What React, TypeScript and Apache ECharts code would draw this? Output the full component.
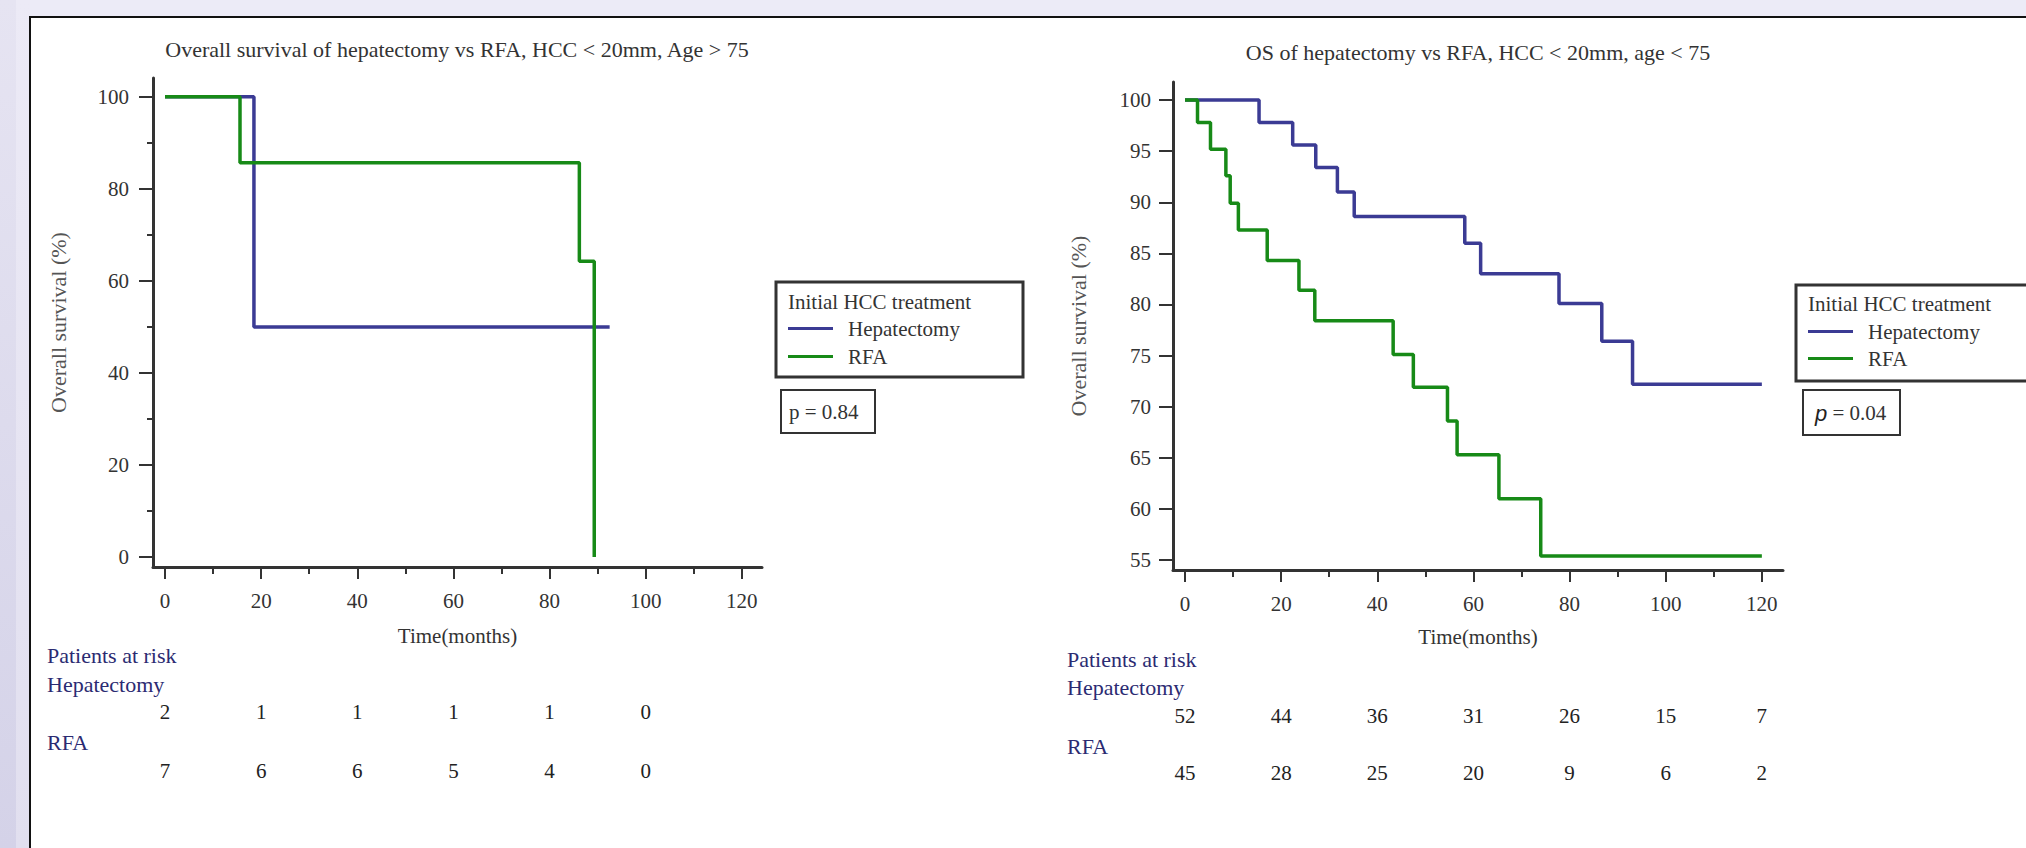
import React, { useEffect, useRef } from "react";
import * as echarts from "echarts";

// ---- data ----
const xMajorTicks = [0, 20, 40, 60, 80, 100, 120];
const xMinorTicks = [10, 30, 50, 70, 90, 110];
const leftYTicks = [0, 20, 40, 60, 80, 100];
const leftYMinorTicks = [10, 30, 50, 70, 90];
const rightYTicks = [55, 60, 65, 70, 75, 80, 85, 90, 95, 100];

const leftHepatectomy = [[0, 100], [18.5, 50], [92.5, 50]];
const leftRFA = [[0, 100], [15.6, 85.7], [86.2, 64.3], [89.3, 0]];

const rightHepatectomy = [
  [0, 100], [15.4, 97.8], [22.4, 95.6], [27.2, 93.4], [31.7, 91.0], [35.2, 88.6],
  [58.2, 86.0], [61.5, 83.0], [77.8, 80.1], [86.7, 76.4], [93.1, 72.2], [120, 72.2],
];
const rightRFA = [
  [0, 100], [2.6, 97.8], [5.3, 95.2], [8.5, 92.6], [9.4, 89.9], [11.1, 87.3],
  [17.1, 84.3], [23.7, 81.4], [27.0, 78.4], [43.3, 75.1], [47.5, 71.9], [54.6, 68.6],
  [56.6, 65.3], [65.3, 61.0], [74.0, 55.4], [120, 55.4],
];

const leftRiskMonths = [0, 20, 40, 60, 80, 100];
const leftRiskHepatectomy = [2, 1, 1, 1, 1, 0];
const leftRiskRFA = [7, 6, 6, 5, 4, 0];
const rightRiskMonths = [0, 20, 40, 60, 80, 100, 120];
const rightRiskHepatectomy = [52, 44, 36, 31, 26, 15, 7];
const rightRiskRFA = [45, 28, 25, 20, 9, 6, 2];

const titleLeft = "Overall survival of hepatectomy vs RFA, HCC < 20mm, Age > 75";
const titleRight = "OS of hepatectomy vs RFA, HCC < 20mm, age < 75";
const seriesNames = ["Hepatectomy", "RFA"];

// ---- styles ----
const SERIF = "'Liberation Serif', 'Times New Roman', serif";
const BLUE = "#3b3b94";
const GREEN = "#178a17";
const AXIS = "#333333";
const NAVY = "#2b2b72";

function mainX(gridIndex: number, max: number, nameGap: number) {
  return {
    type: "value", gridIndex, min: -2.5, max, position: "bottom",
    name: "Time(months)", nameLocation: "middle", nameGap,
    nameTextStyle: { fontSize: 21, fontFamily: SERIF, color: AXIS },
    axisLine: { show: true, onZero: false, lineStyle: { color: AXIS, width: 3 } },
    axisTick: { show: true, customValues: xMajorTicks, length: 12, lineStyle: { color: AXIS, width: 2 } },
    axisLabel: { show: true, customValues: xMajorTicks, margin: 23, fontSize: 21, fontFamily: SERIF, color: AXIS },
    splitLine: { show: false },
  };
}
function minorX(gridIndex: number, max: number) {
  return {
    type: "value", gridIndex, min: -2.5, max, position: "bottom",
    axisLine: { show: false, onZero: false },
    axisTick: { show: true, customValues: xMinorTicks, length: 7, lineStyle: { color: AXIS, width: 2 } },
    axisLabel: { show: false },
    splitLine: { show: false },
  };
}
function hiddenAxis(gridIndex: number, min: number, max: number, inverse = false) {
  return {
    type: "value", gridIndex, min, max, inverse, show: false,
    axisLine: { show: false, onZero: false }, axisTick: { show: false },
    axisLabel: { show: false }, splitLine: { show: false },
  };
}
function mainY(gridIndex: number, min: number, max: number, ticks: number[], margin: number) {
  return {
    type: "value", gridIndex, min, max, position: "left",
    name: "Overall survival (%)", nameLocation: "middle", nameGap: 84, nameRotate: 90,
    nameTextStyle: { fontSize: 22, fontFamily: SERIF, color: "#555555" },
    axisLine: { show: true, onZero: false, lineStyle: { color: AXIS, width: 3 } },
    axisTick: { show: true, customValues: ticks, length: 14, lineStyle: { color: AXIS, width: 2 } },
    axisLabel: { show: true, customValues: ticks, margin, fontSize: 21, fontFamily: SERIF, color: AXIS },
    splitLine: { show: false },
  };
}

function kmSeries(name: string, data: number[][], xi: number, yi: number, color: string, z: number) {
  return {
    type: "line", name, data, xAxisIndex: xi, yAxisIndex: yi, step: "end",
    showSymbol: false, symbol: "none", z,
    lineStyle: { color, width: 3.5 }, itemStyle: { color },
  };
}

function riskSeries(months: number[], hep: number[], rfa: number[], xi: number, yi: number) {
  const data = months.map((m, i) => [m, 0, hep[i]]).concat(months.map((m, i) => [m, 1, rfa[i]]));
  return {
    type: "scatter", data, xAxisIndex: xi, yAxisIndex: yi, symbolSize: 1, silent: true,
    itemStyle: { color: "rgba(0,0,0,0)" },
    label: {
      show: true, position: "inside", formatter: (p: any) => String(p.value[2]),
      fontSize: 21, fontFamily: SERIF, color: "#222222", textBorderWidth: 0, opacity: 1,
    },
  };
}

function txt(text: string, x: number, y: number, opts: any = {}) {
  return {
    type: "text", x, y, z: 5,
    style: {
      text, fontSize: 21, fontFamily: SERIF, fill: AXIS,
      textAlign: "left", textVerticalAlign: "middle", align: "left", verticalAlign: "middle",
      ...opts,
    },
  };
}
function box(x: number, y: number, w: number, h: number, lw: number) {
  return {
    type: "rect", z: -5, shape: { x, y, width: w, height: h },
    style: { fill: "#ffffff", stroke: AXIS, lineWidth: lw },
  };
}

export default function App() {
  const ref = useRef<HTMLDivElement>(null);
  useEffect(() => {
    document.body.style.margin = "0";
    if (!ref.current) return;
    const chart = echarts.init(ref.current, null, { renderer: "svg" });
    const option: any = {
      animation: false,
      backgroundColor: "#ecebf7",
      title: [
        { text: titleLeft, left: 457, top: 38, textAlign: "center", padding: 0,
          textStyle: { fontSize: 22, fontWeight: "normal", fontFamily: SERIF, color: AXIS } },
        { text: titleRight, left: 1478, top: 41, textAlign: "center", padding: 0,
          textStyle: { fontSize: 22, fontWeight: "normal", fontFamily: SERIF, color: AXIS } },
      ],
      legend: [
        { data: seriesNames, orient: "vertical", left: 788, top: 318, padding: 0, itemGap: 7,
          itemWidth: 45, itemHeight: 3, icon: "rect", selectedMode: false,
          textStyle: { fontSize: 21, fontFamily: SERIF, color: AXIS, padding: [0, 0, 0, 10] } },
        { data: seriesNames, orient: "vertical", left: 1808, top: 321, padding: 0, itemGap: 6,
          itemWidth: 45, itemHeight: 3, icon: "rect", selectedMode: false,
          textStyle: { fontSize: 21, fontFamily: SERIF, color: AXIS, padding: [0, 0, 0, 10] } },
      ],
      grid: [
        { left: 153, top: 78, width: 609, height: 489 },
        { left: 1173, top: 82, width: 610, height: 488 },
        { left: 153, top: 712, width: 609, height: 59 },
        { left: 1173, top: 716, width: 610, height: 57 },
      ],
      xAxis: [
        mainX(0, 124.2, 58),
        minorX(0, 124.2),
        mainX(1, 124.4, 56),
        minorX(1, 124.4),
        hiddenAxis(2, -2.5, 124.2),
        hiddenAxis(3, -2.5, 124.4),
      ],
      yAxis: [
        mainY(0, -2.17, 104.1, leftYTicks, 24),
        {
          type: "value", gridIndex: 0, min: -2.17, max: 104.1, position: "left",
          axisLine: { show: false, onZero: false },
          axisTick: { show: true, customValues: leftYMinorTicks, length: 6, lineStyle: { color: AXIS, width: 2 } },
          axisLabel: { show: false }, splitLine: { show: false },
        },
        mainY(1, 54.02, 101.77, rightYTicks, 22),
        hiddenAxis(2, 0, 1, true),
        hiddenAxis(3, 0, 1, true),
      ],
      series: [
        kmSeries("Hepatectomy", leftHepatectomy, 0, 0, BLUE, 3),
        kmSeries("RFA", leftRFA, 0, 0, GREEN, 4),
        kmSeries("Hepatectomy", rightHepatectomy, 2, 2, BLUE, 3),
        kmSeries("RFA", rightRFA, 2, 2, GREEN, 4),
        riskSeries(leftRiskMonths, leftRiskHepatectomy, leftRiskRFA, 4, 3),
        riskSeries(rightRiskMonths, rightRiskHepatectomy, rightRiskRFA, 5, 4),
      ],
      graphic: [
        {
          type: "rect", z: -10, shape: { x: 0, y: 0, width: 16, height: 848 },
          style: { fill: new echarts.graphic.LinearGradient(0, 0, 0, 1, [
            { offset: 0, color: "#e6e4f2" }, { offset: 1, color: "#d4d2e8" }]) },
        },
        {
          type: "rect", z: -10, shape: { x: 16, y: 0, width: 14, height: 848 },
          style: { fill: new echarts.graphic.LinearGradient(0, 0, 0, 1, [
            { offset: 0, color: "#eceaf6" }, { offset: 1, color: "#e1dfef" }]) },
        },
        {
          type: "rect", z: -9, shape: { x: 30, y: 17, width: 2020, height: 860 },
          style: { fill: "#ffffff", stroke: "#111111", lineWidth: 2 },
        },
        box(776, 282, 247, 95, 3),
        box(1796, 285, 260, 96, 3),
        box(781, 390, 94, 43, 2),
        box(1803, 390, 97, 45, 2),
        txt("Initial HCC treatment", 788, 302),
        txt("Initial HCC treatment", 1808, 304),
        txt("p = 0.84", 789, 412),
        txt("{p|p} = 0.04", 1815, 413, {
          rich: { p: { fontFamily: "'Liberation Sans', Arial, sans-serif", fontStyle: "italic", fontSize: 22, fill: "#222" } },
        }),
        txt("Patients at risk", 47, 655, { fill: NAVY, fontSize: 22 }),
        txt("Hepatectomy", 47, 684, { fill: NAVY, fontSize: 22 }),
        txt("RFA", 47, 742, { fill: NAVY, fontSize: 22 }),
        txt("Patients at risk", 1067, 659, { fill: NAVY, fontSize: 22 }),
        txt("Hepatectomy", 1067, 687, { fill: NAVY, fontSize: 22 }),
        txt("RFA", 1067, 746, { fill: NAVY, fontSize: 22 }),
      ],
    };
    chart.setOption(option);
    return () => chart.dispose();
  }, []);
  return <div ref={ref} style={{ width: 2026, height: 848 }} />;
}
